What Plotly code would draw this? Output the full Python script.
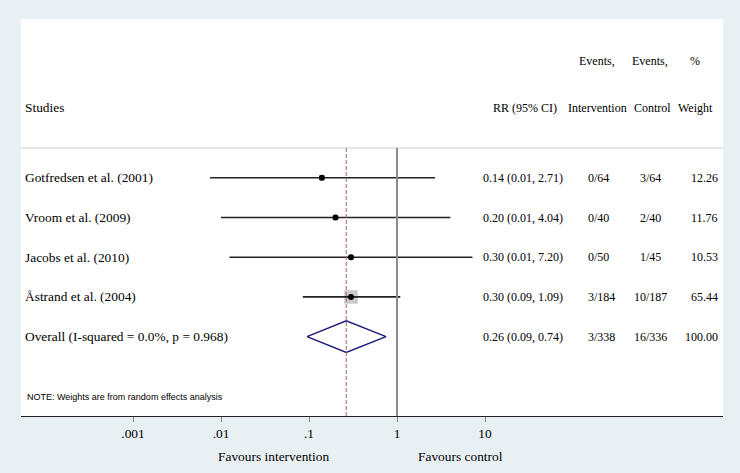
import plotly.graph_objects as go
import math

# ---------------- data ----------------
studies = ["Gotfredsen et al. (2001)", "Vroom et al. (2009)",
           "Jacobs et al. (2010)", "Åstrand et al. (2004)"]
overall_label = "Overall (I-squared = 0.0%, p = 0.968)"
rr_est = [0.14, 0.20, 0.30, 0.30]
rr_lo = [0.0075, 0.01, 0.0125, 0.085]
rr_hi = [2.71, 4.04, 7.20, 1.09]
overall_est = 0.265
overall_lo = 0.095
overall_hi = 0.75
rr_text = ["0.14 (0.01, 2.71)", "0.20 (0.01, 4.04)", "0.30 (0.01, 7.20)",
           "0.30 (0.09, 1.09)", "0.26 (0.09, 0.74)"]
events_int = ["0/64", "0/40", "0/50", "3/184", "3/338"]
events_ctl = ["3/64", "2/40", "1/45", "10/187", "16/336"]
weights = [12.26, 11.76, 10.53, 65.44]
weight_text = ["12.26", "11.76", "10.53", "65.44", "100.00"]
tick_vals = [0.001, 0.01, 0.1, 1, 10]
tick_text = [".001", ".01", ".1", "1", "10"]

# ---------------- layout helpers ----------------
W, H = 740, 473
ML, MR, MT, MB = 21, 17, 19, 57
PW = W - ML - MR
BG = "#e9f0f3"


def px(xp):
    return (xp - ML) / PW


SERIF = "Liberation Serif"
TXT = dict(family=SERIF, size=12, color="#000000")
BIG = dict(family=SERIF, size=13.4, color="#000000")
rows = list(range(len(studies) + 1))
y_hdr_line = -0.75

fig = go.Figure()

# weight boxes
max_w = max(weights)
fig.add_trace(go.Scatter(
    x=rr_est, y=rows[:4], mode="markers",
    marker=dict(symbol="square", color="#b4b4b4",
                size=[13.5 * math.sqrt(w / max_w) for w in weights], line=dict(width=0)),
    hoverinfo="skip", showlegend=False))

# CI lines
for i in range(len(studies)):
    fig.add_trace(go.Scatter(
        x=[rr_lo[i], rr_hi[i]], y=[rows[i], rows[i]], mode="lines",
        line=dict(color="#222222", width=1.6), hoverinfo="skip", showlegend=False))

# point estimates
fig.add_trace(go.Scatter(
    x=rr_est, y=rows[:4], mode="markers",
    marker=dict(symbol="circle", color="#000000", size=6),
    hoverinfo="skip", showlegend=False))

# diamond
r = rows[4]
dh = 0.4
fig.add_trace(go.Scatter(
    x=[overall_lo, overall_est, overall_hi, overall_est, overall_lo],
    y=[r, r - dh, r, r + dh, r], mode="lines",
    line=dict(color="#1a1a7a", width=1.5), hoverinfo="skip", showlegend=False))

shapes = [
    dict(type="line", xref="paper", yref="y", x0=0, x1=1, y0=y_hdr_line, y1=y_hdr_line,
         line=dict(color="#cccccc", width=1)),
    dict(type="line", xref="x", yref="y", x0=1, x1=1, y0=y_hdr_line, y1=6.0,
         line=dict(color="#8c8c8c", width=2)),
    dict(type="line", xref="x", yref="y", x0=overall_est, x1=overall_est,
         y0=y_hdr_line, y1=6.0, line=dict(color="#b06070", width=1, dash="4px,2px")),
]

ann = []


def add_text(xp, y, text, anchor="left", font=TXT, yref="y", yshift=0):
    if anchor == "left":
        xp -= 2
    elif anchor == "right":
        xp += 2
    ann.append(dict(x=px(xp), xref="paper", y=y, yref=yref, text=text,
                    showarrow=False, xanchor=anchor, yanchor="middle",
                    font=font, yshift=yshift))


# headers
add_text(25, -1.76, "Studies", font=BIG)
add_text(525, -1.76, "RR (95% CI)", "center")
add_text(597, -2.94, "Events,", "center")
add_text(597, -1.76, "Intervention", "center")
add_text(650, -2.94, "Events,", "center")
add_text(652, -1.76, "Control", "center")
add_text(695, -2.94, "%", "center")
add_text(695, -1.76, "Weight", "center")

labels = studies + [overall_label]
for i, rw in enumerate(rows):
    add_text(25, rw, labels[i], font=BIG)
    add_text(483, rw, rr_text[i])
    add_text(588, rw, events_int[i])
    add_text(650, rw, events_ctl[i], "center")
    add_text(718, rw, weight_text[i], "right")

add_text(27, 5.52, "NOTE: Weights are from random effects analysis",
         font=dict(family="Liberation Sans", size=9, color="#000000"))

add_text(274, 0, "Favours intervention", "center", font=BIG, yref="paper", yshift=-40)
add_text(460, 0, "Favours control", "center", font=BIG, yref="paper", yshift=-40)

fig.update_layout(
    width=W, height=H,
    margin=dict(l=ML, r=MR, t=MT, b=MB),
    paper_bgcolor=BG, plot_bgcolor="#ffffff",
    shapes=shapes, annotations=ann, showlegend=False,
    xaxis=dict(type="log", range=[(21 - 397) / 88, (723 - 397) / 88],
               tickvals=tick_vals, ticktext=tick_text,
               ticks="outside", ticklen=5, tickcolor="#808080", tickwidth=1,
               showline=True, linecolor="#222222", linewidth=1.2,
               showgrid=False, zeroline=False, tickfont=BIG, fixedrange=True),
    yaxis=dict(range=[6.0, -4.0], visible=False, showgrid=False, zeroline=False,
               fixedrange=True),
)

fig.write_html(
    "out.html",
    config={"displayModeBar": False},
    post_script=("document.body.style.margin='0';"
                 "document.body.style.background='" + BG + "';"),
)
